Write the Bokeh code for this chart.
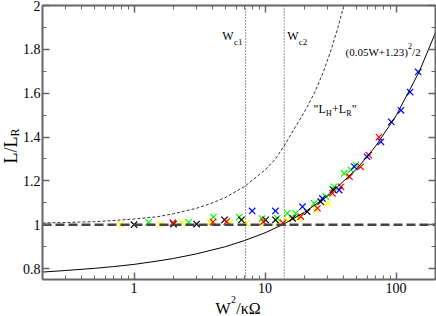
import math
from math import pi
from bokeh.plotting import figure
from bokeh.models import (Label, LogAxis, LinearAxis, FixedTicker,
                          CustomJSTickFormatter, Range1d)
from bokeh.embed import file_html
from bokeh.resources import INLINE

# ---------------- data ----------------
x_lo, x_hi = 0.2, 200.0
y_lo, y_hi = 0.75, 2.0
x_major = [1, 10, 100]
x_minor = [0.2, 0.3, 0.4, 0.5, 0.6, 0.7, 0.8, 0.9,
           2, 3, 4, 5, 6, 7, 8, 9,
           20, 30, 40, 50, 60, 70, 80, 90, 200]
y_major = [0.8, 1.0, 1.2, 1.4, 1.6, 1.8, 2.0]
y_minor = [0.9, 1.1, 1.3, 1.5, 1.7, 1.9]

# fit curve (0.05W+1.23)^2/2
fit_x = [0.2, 0.3, 0.5, 0.7, 1, 1.5, 2, 3, 5, 7, 10, 14, 20, 30, 50, 70, 100, 150, 200]
fit_y = [0.784, 0.791, 0.801, 0.809, 0.819, 0.834, 0.846, 0.867, 0.900, 0.928,
         0.963, 1.004, 1.057, 1.131, 1.254, 1.359, 1.497, 1.697, 1.876]

# "L_H + L_R" curve
lhr_x = [0.2, 0.3, 0.5, 0.7, 1, 1.5, 2, 3, 4, 5, 7, 10, 12, 14, 17, 20, 24, 28, 32, 36, 40]
lhr_y = [1.008, 1.010, 1.014, 1.019, 1.026, 1.036, 1.050, 1.075, 1.100, 1.125, 1.175,
         1.250, 1.300, 1.360, 1.445, 1.515, 1.605, 1.700, 1.800, 1.900, 2.000]

unity = 1.0
wc1 = 7.1
wc2 = 14.0

black_x = [1.0, 2.0, 3.0, 4.9, 6.6, 10.1, 12.0, 16.2, 21.0, 26.6, 33.0]
black_y = [1.000, 1.003, 1.003, 1.022, 1.022, 1.022, 1.022, 1.029, 1.059, 1.105, 1.160]

yellow_x = [0.79, 1.58, 2.32, 3.8, 5.4, 7.2, 9.5, 12.7, 14.8, 18.2, 24.4, 30.0]
yellow_y = [1.000, 1.000, 1.009, 1.009, 1.009, 1.007, 1.007, 1.007, 1.022, 1.029, 1.067, 1.097]

green_x = [1.29, 2.61, 4.03, 6.35, 9.5, 12.4, 14.8, 17.1, 23.7, 29.1, 33.6, 40.2, 45.3, 49.4]
green_y = [1.011, 1.011, 1.035, 1.035, 1.028, 1.029, 1.052, 1.052, 1.097, 1.128, 1.173,
           1.234, 1.250, 1.272]

red_x = [1.98, 4.0, 5.1, 9.7, 13.7, 18.7, 25.1, 32.7, 38.0, 44.1, 53.6, 62.0, 74.0]
red_y = [1.009, 1.012, 1.014, 1.014, 1.008, 1.037, 1.075, 1.143, 1.173, 1.219, 1.264,
         1.317, 1.400]

blue_x = [7.97, 12.0, 19.3, 27.4, 36.8, 48.0, 60.0, 76.6, 92.0, 109.0, 128.0, 147.5]
blue_y = [1.063, 1.063, 1.082, 1.120, 1.158, 1.265, 1.310, 1.378, 1.469, 1.522, 1.605, 1.697]

SERIF = "Liberation Serif"
AX = "#666666"

# canvas and plot box (pixels)
W, H = 436, 316
BL, BR, BT, BB = 42, 435, 5, 279
dec_px = (BR - BL) / (math.log10(x_hi) - math.log10(x_lo))
upx = (BB - BT) / (y_hi - y_lo)


def px2x(px):
    return 10 ** (math.log10(x_lo) + (px - BL) / dec_px)


def py2y(py):
    return y_hi - (py - BT) / upx


p = figure(width=W, height=H, x_axis_type="log",
           x_axis_location=None, y_axis_location=None,
           x_range=Range1d(px2x(0), px2x(W)), y_range=Range1d(py2y(H), py2y(0)),
           output_backend="svg", toolbar_location=None,
           min_border_left=0, min_border_right=0, min_border_top=0,
           min_border_bottom=0)
p.grid.visible = False
p.outline_line_color = None
p.background_fill_color = "white"
p.border_fill_color = "white"

xt = FixedTicker(ticks=x_major, minor_ticks=x_minor)
yt = FixedTicker(ticks=y_major, minor_ticks=y_minor)
blank = "return '';"


def style(ax, labels=True):
    ax.axis_line_color = AX
    ax.axis_line_width = 2
    ax.major_tick_line_color = AX
    ax.minor_tick_line_color = AX
    ax.major_tick_line_width = 1.5
    ax.minor_tick_line_width = 1
    ax.major_tick_in = 7
    ax.major_tick_out = 0
    ax.minor_tick_in = 4
    ax.minor_tick_out = 0
    ax.major_label_text_font = SERIF
    ax.major_label_text_font_size = "14px" if labels else "1px"
    ax.major_label_text_color = "black"


bx = LogAxis(ticker=xt, fixed_location=y_lo, bounds=(x_lo, x_hi),
             formatter=CustomJSTickFormatter(code="return String(tick);"))
style(bx)
bx.major_label_standoff = 3
p.add_layout(bx, "below")

ly = LinearAxis(ticker=yt, fixed_location=x_lo, bounds=(y_lo, y_hi),
                formatter=CustomJSTickFormatter(code="return String(Math.round(tick*10)/10);"))
style(ly)
ly.major_label_standoff = 2
p.add_layout(ly, "left")

tx = LogAxis(ticker=xt, fixed_location=y_hi, bounds=(x_lo, x_hi),
             formatter=CustomJSTickFormatter(code=blank))
style(tx, labels=False)
tx.major_label_standoff = 0
p.add_layout(tx, "above")

ry = LinearAxis(ticker=yt, fixed_location=x_hi, bounds=(y_lo, y_hi),
                formatter=CustomJSTickFormatter(code=blank))
style(ry, labels=False)
ry.major_label_standoff = 0
p.add_layout(ry, "right")

# markers
for xs, ys, c in [(yellow_x, yellow_y, "#ffff00"), (green_x, green_y, "#00ff00"),
                  (black_x, black_y, "black"), (red_x, red_y, "#ff0000"),
                  (blue_x, blue_y, "#0000ff")]:
    p.scatter(xs, ys, marker="x", size=9, line_color=c, line_width=1.2)

# curves
p.line(fit_x, fit_y, line_color="black", line_width=1)
p.line(lhr_x, lhr_y, line_color="#333333", line_width=1, line_dash="3 2")

p.segment(x0=[x_lo], y0=[unity], x1=[x_hi], y1=[unity], line_color="#444444",
          line_width=2.5, line_dash="9 4")
p.segment(x0=[wc1, wc2], y0=[y_lo, y_lo], x1=[wc1, wc2], y1=[y_hi, y_hi],
          line_color="#333333", line_width=1, line_dash="1 2")


def txt(px, py, text, size, align="left", baseline="alphabetic", angle=0):
    p.add_layout(Label(x=px2x(px), y=py2y(py), text=text, text_font=SERIF,
                       text_font_size=f"{size}px", text_color="black",
                       text_align=align, text_baseline=baseline, angle=angle))


# W_c1 / W_c2
txt(233, 35.5, "W", 12, align="right")
txt(242, 41.5, "c1", 9, align="right")
txt(286.7, 35.5, "W", 12)
txt(298.3, 41.5, "c2", 9)

# fit formula
txt(345, 51.5, "(0.05W+1.23)", 11)
txt(407.6, 45.5, "2", 8)
txt(411.6, 51.5, "/2", 11)

# "L_H+L_R"
txt(313, 108.5, "\"L", 12)
txt(325.4, 112.5, "H", 8)
txt(331.4, 108.5, "+L", 12)
txt(345.7, 112.5, "R", 8)
txt(351.2, 108.5, "\"", 12)

# axis titles
txt(215, 307.5, "W", 16)
txt(230.6, 299, "2", 10)
txt(235.8, 307.5, "/\u03ba\u03a9", 16)

txt(10, 136, "L/L", 18, align="right", baseline="middle", angle=pi / 2)
txt(14.5, 136, "R", 12, align="left", baseline="middle", angle=pi / 2)

open("out.html", "w").write(file_html(p, INLINE))
